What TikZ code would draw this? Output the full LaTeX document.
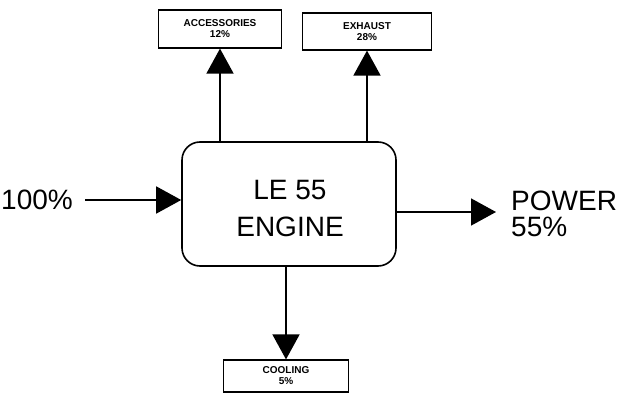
\documentclass[tikz,border=0pt]{standalone}
\usepackage{fontspec}
\setmainfont{Liberation Sans}
\usetikzlibrary{arrows.meta}

\begin{document}
\begin{tikzpicture}[x=1pt,y=-1pt,
    every node/.style={font=\fontsize{28}{37}\selectfont},
    enginebox/.style={draw,line width=1.6pt,rounded corners=18pt,
      minimum width=214pt,minimum height=124pt},
    lossbox/.style={draw,line width=1.2pt,align=center,inner sep=0pt,
      font=\fontsize{10}{11}\selectfont\bfseries},
    flow/.style={line width=1.6pt,-{Triangle[length=25pt,width=27pt]}}]
    \useasboundingbox (0,0) rectangle (617,398);

    % engine block in the middle
    \node[enginebox] (engine) at (289,204) {};
    \node[align=center,inner sep=0pt] (enginename) at (290,209) {LE 55\\ENGINE};

    % losses
    \node[lossbox,minimum width=123pt,minimum height=38pt] (acc) at (220,29)
      {ACCESSORIES\\12\%};
    \node[lossbox,minimum width=129pt,minimum height=37pt] (exh) at (367,31.5)
      {EXHAUST\\28\%};
    \node[lossbox,minimum width=125pt,minimum height=32pt] (cool) at (286,376)
      {COOLING\\5\%};

    % fuel in, power out
    \node[anchor=east,inner sep=0pt] (fuel) at (73,200) {100\%};
    \node[anchor=west,align=left,inner sep=0pt,
      font=\fontsize{28}{26}\selectfont] (power) at (511,214) {POWER\\55\%};
    \coordinate (pwrtip) at (496,212);

    \draw[flow] ([xshift=12pt]fuel.east) -- (engine.west |- fuel.east);
    \draw[flow] (engine.east |- pwrtip) -- (pwrtip);
    \draw[flow] (acc |- engine.north) -- (acc.south);
    \draw[flow] (exh |- engine.north) -- (exh.south);
    \draw[flow] (cool |- engine.south) -- (cool.north);
  \end{tikzpicture}
\end{document}
